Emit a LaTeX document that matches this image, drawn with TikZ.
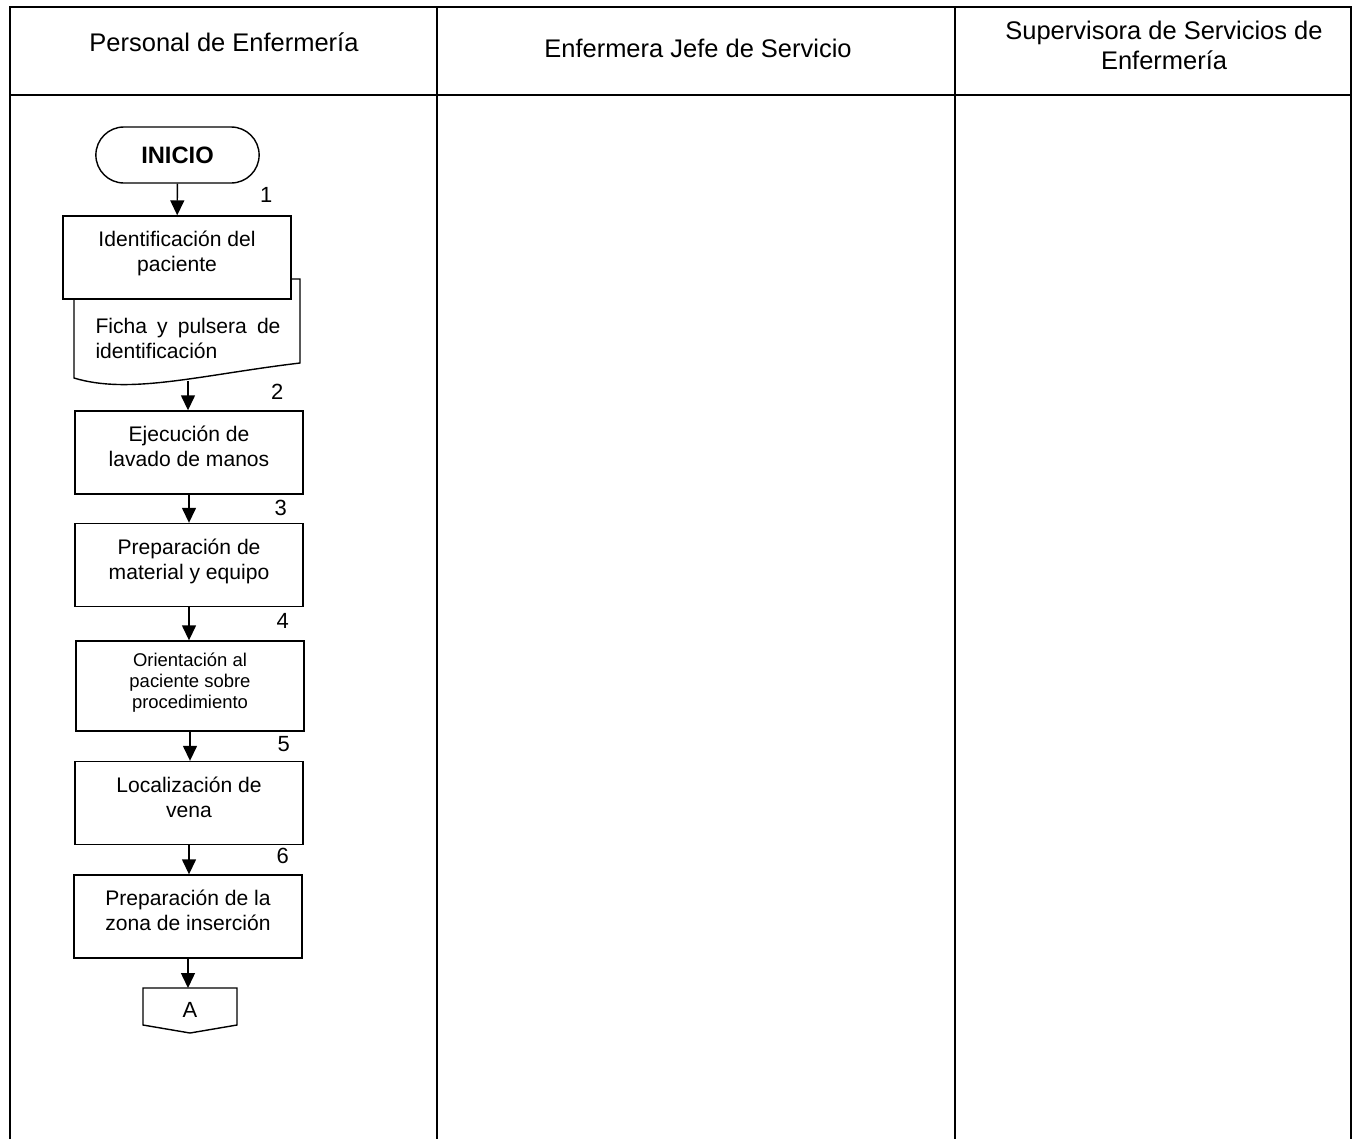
\documentclass[tikz,border=0pt]{standalone}
\usepackage{fontspec}
\setmainfont{Liberation Sans}
\usetikzlibrary{arrows.meta,shapes.misc,positioning}

\begin{document}
\begin{tikzpicture}[
                x=0.02cm, y=-0.02cm,
                >={Triangle[length=3mm,width=2.8mm]},
                frame/.style={line width=1.2pt},
                process/.style={rectangle, draw, line width=0.8pt, fill=white, minimum width=4.56cm, minimum height=1.66cm, align=center, font=\fontsize{12}{14.2}\selectfont},
                terminal/.style={rounded rectangle, draw, line width=0.8pt, minimum width=3.5cm, minimum height=1.12cm, font=\fontsize{13.5}{16}\selectfont\bfseries},
                num/.style={anchor=base east, inner sep=0pt, font=\fontsize{12.5}{14}\selectfont},
                lane/.style={align=center, font=\fontsize{14.5}{17}\selectfont},
                flow/.style={->, line width=0.8pt}
                ]
            \useasboundingbox (0,0) rectangle (1354,1139);
            % Lanes
            \draw[frame] (10,1139) -- (10,7) -- (1351,7) -- (1351,1139);
            \draw[frame] (10,95) -- (1351,95);
            \draw[frame] (437,7) -- (437,1139);
            \draw[frame] (955,7) -- (955,1139);
            \node[lane] (hPer) at (224,42) {Personal de Enfermería};
            \node[lane] (hJefe) at (698,48) {Enfermera Jefe de Servicio};
            \node[lane] (hSup) at (1164,45) {Supervisora de Servicios de\\Enfermería};

            % Nodes
            \node[terminal] (inicio) at (177.5,155) {INICIO};
            \draw[line width=0.8pt, fill=white] (74,279) -- (300,279) -- (300,363)
                .. controls (200,375) and (130,395) .. (74,378) -- cycle;
            \coordinate (docbot) at (188,381);
            \node[align=justify, text width=3.7cm, inner sep=0pt, font=\fontsize{12}{14.2}\selectfont] (doc) at (188,338) {Ficha y pulsera de\linebreak identificación};
            \node[process] (b1) at (177,257.5) {Identificación del\\paciente\\[-0.25cm]};
            \node[process] (b2) at (189,452.5) {Ejecución de\\lavado de manos\\[-0.25cm]};
            \node[process] (b3) at (189,565) {Preparación de\\material y equipo\\[-0.25cm]};
            \node[process, minimum height=1.8cm, font=\fontsize{10.5}{11.9}\selectfont] (b4) at (190,686) {Orientación al\\paciente sobre\\procedimiento\\[-0.2cm]};
            \node[process] (b5) at (189,803) {Localización de\\vena\\[-0.25cm]};
            \node[process] (b6) at (188,916.5) {Preparación de la\\zona de inserción\\[-0.25cm]};
            \draw[line width=0.8pt] (143,988) -- (237,988) -- (237,1025) -- (190,1033) -- (143,1025) -- cycle;
            \coordinate (aTop) at (190,988);
            \node[font=\fontsize{12.5}{14}\selectfont] (A) at (190,1010) {A};

            % Step numbers
            \node[num] (n1) at ([xshift=-0.38cm,yshift=0.25cm]b1.north east) {1};
            \node[num] (n2) at ([xshift=-0.4cm,yshift=0.21cm]b2.north east) {2};
            \node[num] (n3) at ([xshift=-0.33cm,yshift=0.15cm]b3.north east) {3};
            \node[num] (n4) at ([xshift=-0.31cm,yshift=0.23cm]b4.north east) {4};
            \node[num] (n5) at ([xshift=-0.27cm,yshift=0.19cm]b5.north east) {5};
            \node[num] (n6) at ([xshift=-0.27cm,yshift=0.21cm]b6.north east) {6};

            % Edges
            \draw[flow] (inicio) -- (b1);
            \draw[flow] (docbot) -- (docbot |- b2.north);
            \draw[flow] (b2.south) -- (b2.south |- b3.north);
            \draw[flow] (b3.south) -- (b3.south |- b4.north);
            \draw[flow] (b4.south) -- (b4.south |- b5.north);
            \draw[flow] (b5.south) -- (b5.south |- b6.north);
            \draw[flow] (b6.south) -- (b6.south |- aTop);

            \end{tikzpicture}
\end{document}
